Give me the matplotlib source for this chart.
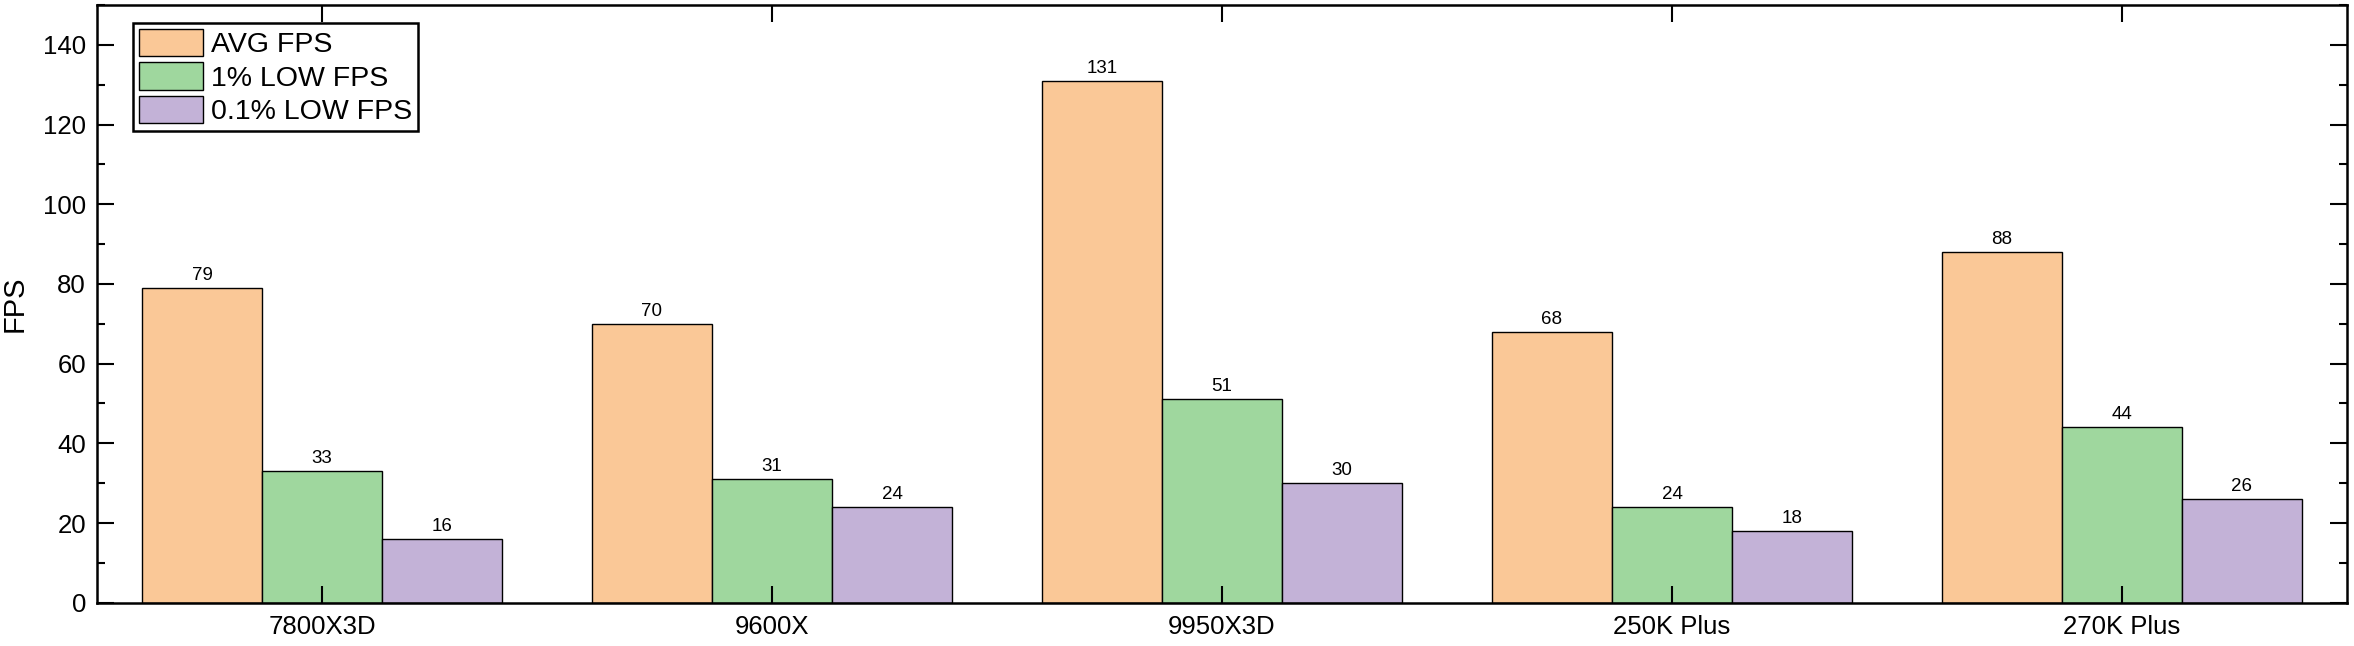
import matplotlib
matplotlib.use("Agg")
import matplotlib.pyplot as plt
from matplotlib.ticker import MultipleLocator
import numpy as np

categories = ["7800X3D", "9600X", "9950X3D", "250K Plus", "270K Plus"]
avg_fps = [79, 70, 131, 68, 88]
low1_fps = [33, 31, 51, 24, 44]
low01_fps = [16, 24, 30, 18, 26]
series_names = ["AVG FPS", "1% LOW FPS", "0.1% LOW FPS"]
colors = ["#FAC897", "#9FD79E", "#C3B2D7"]

plt.rcParams['font.family'] = ['Liberation Sans', 'DejaVu Sans']

fig = plt.figure(figsize=(23.54, 6.46), dpi=100)
ax = fig.add_axes([97/2354, 43.3/646, 2250/2354, 597.7/646])

x = np.arange(len(categories))
w = 0.8 / 3
for i, (vals, name, c) in enumerate(zip([avg_fps, low1_fps, low01_fps], series_names, colors)):
    bars = ax.bar(x + (i - 1) * w, vals, width=w, color=c, edgecolor="black",
                  linewidth=1.0, label=name, zorder=2)
    for b, v in zip(bars, vals):
        ax.text(b.get_x() + b.get_width() / 2, v + 1.0, str(v), ha="center",
                va="bottom", fontsize=13.5, zorder=3)

ax.set_xlim(-0.5, len(categories) - 0.5)
ax.set_ylim(0, 150)
ax.set_xticks(x)
ax.set_xticklabels(categories, fontsize=18.5)
ax.yaxis.set_major_locator(MultipleLocator(20))
ax.yaxis.set_minor_locator(MultipleLocator(10))
ax.tick_params(axis="both", which="major", direction="in", length=12, width=1.5,
               labelsize=18.5, top=True, right=True, zorder=5)
ax.tick_params(axis="y", which="minor", direction="in", length=6, width=1.5,
               right=True)
ax.tick_params(axis="x", which="major", pad=9)
ax.tick_params(axis="y", which="major", pad=8)
ax.set_axisbelow(False)
for s in ax.spines.values():
    s.set_linewidth(1.8)
    s.set_zorder(6)
ax.set_ylabel("FPS", fontsize=21, labelpad=10)

leg = ax.legend(loc="upper left", bbox_to_anchor=(0.016, 0.970), fontsize=20.5,
                frameon=True, fancybox=False, edgecolor="black",
                handlelength=2.25, handleheight=1.1, labelspacing=0.15,
                handletextpad=0.3, borderpad=0.2, borderaxespad=0)
leg.get_frame().set_linewidth(1.8)
leg.get_frame().set_alpha(1)

fig.savefig("out.png", dpi=100)
